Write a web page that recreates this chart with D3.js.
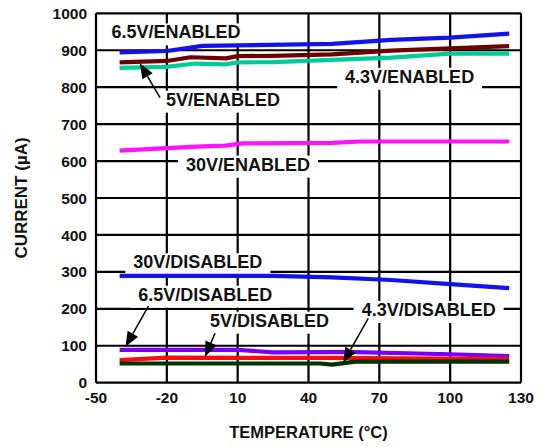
<!DOCTYPE html>
<html><head><meta charset="utf-8">
<script src="https://cdn.jsdelivr.net/npm/d3@7/dist/d3.min.js"></script>
<style>
html,body{margin:0;padding:0;background:#fff;}
svg{display:block;font-family:"Liberation Sans",Arial,Helvetica,sans-serif;font-weight:bold;}
</style></head>
<body><svg id="c" width="547" height="447"></svg>
<script>
// ---- data ----
const xTicks = [-50, -20, 10, 40, 70, 100, 130];
const yTicks = [0, 100, 200, 300, 400, 500, 600, 700, 800, 900, 1000];

const en65T = [-40, -20, -5, 50, 75, 100, 125];
const en65V = [894, 898, 912, 917, 928, 934, 945];
const en5T  = [-40, -20, -10, 5, 10, 25, 50, 75, 100, 125];
const en5V  = [867, 871, 881, 878, 884, 885, 889, 899, 905, 911];
const en43T = [-40, -20, -8, 5, 10, 25, 50, 75, 100, 125];
const en43V = [852, 855, 864, 862, 867, 868, 874, 880, 891, 891];
const en30T = [-40, -20, -5, 5, 12, 50, 62, 125];
const en30V = [628, 635, 640, 642, 648, 649, 653, 653];

const dis30T = [-40, 25, 50, 75, 100, 125];
const dis30V = [289, 289, 285, 278, 267, 256];
const dis65T = [-40, 10, 25, 50, 60, 100, 125];
const dis65V = [89, 89, 82, 83, 83, 77, 72];
const dis5T  = [-40, -20, 50, 125];
const dis5V  = [61, 68, 67, 64];
const dis43T = [-40, 45, 50, 60, 125];
const dis43V = [52, 52, 49, 57, 57];

const seriesNames  = ["6.5V/ENABLED","5V/ENABLED","4.3V/ENABLED","30V/ENABLED",
                      "30V/DISABLED","6.5V/DISABLED","5V/DISABLED","4.3V/DISABLED"];
const seriesT = [en65T, en5T, en43T, en30T, dis30T, dis65T, dis5T, dis43T];
const seriesV = [en65V, en5V, en43V, en30V, dis30V, dis65V, dis5V, dis43V];
const seriesColors = ["#1212ec","#6e0000","#00cc96","#ff10ff",
                      "#1212ec","#7a00f5","#ff0a0a","#003300"];

// annotation labels: [text, temp at left edge, current at baseline]
const labelText = ["6.5V/ENABLED","5V/ENABLED","4.3V/ENABLED","30V/ENABLED",
                   "30V/DISABLED","6.5V/DISABLED","5V/DISABLED","4.3V/DISABLED"];
const labelT = [-43.4, -20.4, 55.5, -11.9, -34.2, -32.1, -1.7, 62.5];
const labelV = [932, 750, 812, 574, 309.7, 222, 151.6, 180.6];
// arrows: tail (temp, current) -> tip (temp, current)
const arrowTailT = [-22.9, -27.8, 0.4, 65.3];
const arrowTailV = [771.5, 207.6, 133.7, 174.3];
const arrowTipT  = [-31.4, -37.5, -3.8, 54.7];
const arrowTipV  = [864.6, 97.2, 70.4, 54.1];

// ---- chart ----
const svg = d3.select("#c");
const x = d3.scaleLinear().domain([-50, 130]).range([96, 521]);
const y = d3.scaleLinear().domain([0, 1000]).range([382.7, 13.3]);

// gridlines
const grid = svg.append("g").attr("stroke", "#000").attr("stroke-width", 2.2);
grid.selectAll("line.v").data(xTicks).join("line")
  .attr("x1", d => x(d)).attr("x2", d => x(d)).attr("y1", y(0)).attr("y2", y(1000));
grid.selectAll("line.h").data(yTicks).join("line")
  .attr("y1", d => y(d)).attr("y2", d => y(d)).attr("x1", x(-50)).attr("x2", x(130));

// label background boxes (under the lines)
const boxG = svg.append("g");
const lines = svg.append("g").attr("fill", "none").attr("stroke-width", 4.2)
  .attr("stroke-linejoin", "round");
const labels = svg.append("g");

const fs = 18;
labelText.forEach((t, i) => {
  const tx = labels.append("text").attr("x", x(labelT[i])).attr("y", y(labelV[i]))
    .attr("font-size", fs).attr("fill", "#111").text(t);
  const b = tx.node().getBBox();
  boxG.append("rect").attr("x", b.x - 8).attr("y", b.y + 1)
    .attr("width", b.width + 16).attr("height", b.height + 2).attr("fill", "#fff");
});

// series lines
const line = d3.line().x(d => x(d[0])).y(d => y(d[1]));
seriesT.forEach((ts, i) => {
  lines.append("path").datum(ts.map((t, j) => [t, seriesV[i][j]]))
    .attr("stroke", seriesColors[i]).attr("d", line);
});

// arrows
const arrows = svg.append("g");
arrowTailT.forEach((_, i) => {
  const x1 = x(arrowTailT[i]), y1 = y(arrowTailV[i]);
  const x2 = x(arrowTipT[i]), y2 = y(arrowTipV[i]);
  const ang = Math.atan2(y2 - y1, x2 - x1);
  const L = 15, W = 6;
  const bx = x2 - L * Math.cos(ang), by = y2 - L * Math.sin(ang);
  arrows.append("line").attr("x1", x1).attr("y1", y1).attr("x2", bx).attr("y2", by)
    .attr("stroke", "#000").attr("stroke-width", 1.5);
  const px = -Math.sin(ang) * W, py = Math.cos(ang) * W;
  arrows.append("path")
    .attr("d", `M${x2},${y2}L${bx + px},${by + py}L${bx - px},${by - py}Z`)
    .attr("fill", "#000");
});

// tick labels
svg.append("g").selectAll("text").data(yTicks).join("text")
  .attr("x", 87).attr("y", d => y(d)).attr("dy", "0.36em")
  .attr("text-anchor", "end").attr("font-size", 15.5).attr("fill", "#111").text(d => d);
svg.append("g").selectAll("text").data(xTicks).join("text")
  .attr("x", d => x(d)).attr("y", 403).attr("text-anchor", "middle")
  .attr("font-size", 15.5).attr("fill", "#111").text(d => d);

// axis titles
svg.append("text").attr("x", x(40)).attr("y", 438).attr("text-anchor", "middle")
  .attr("font-size", 16.5).attr("fill", "#111").text("TEMPERATURE (°C)");
svg.append("text").attr("transform", `translate(27,${(y(0) + y(1000)) / 2}) rotate(-90)`)
  .attr("text-anchor", "middle").attr("font-size", 17).attr("fill", "#111").text("CURRENT (µA)");
</script></body></html>
